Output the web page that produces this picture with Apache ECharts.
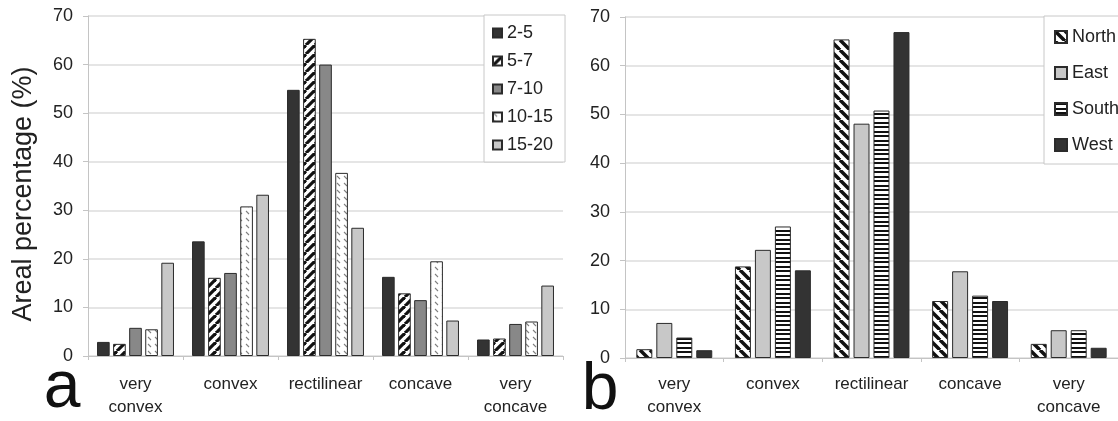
<!DOCTYPE html>
<html>
<head>
<meta charset="utf-8">
<script src="https://cdn.jsdelivr.net/npm/echarts@6/dist/echarts.min.js"></script>
<style>
html,body{margin:0;padding:0;background:#fff;}
#chart{width:1118px;height:421px;}
</style>
</head>
<body>
<div id="chart"></div>
<script>
// ---- data ----
const categories = ['very\nconvex', 'convex', 'rectilinear', 'concave', 'very\nconcave'];
const sizeClasses = ['2-5', '5-7', '7-10', '10-15', '15-20'];
const size_2_5   = [2.9, 23.6, 54.8, 16.3, 3.4];
const size_5_7   = [2.5, 16.1, 65.3, 12.9, 3.6];
const size_7_10  = [5.8, 17.1, 60.0, 11.5, 6.6];
const size_10_15 = [5.5, 30.8, 37.7, 19.5, 7.1];
const size_15_20 = [19.2, 33.2, 26.4, 7.3, 14.5];
const aspects = ['North', 'East', 'South', 'West'];
const north = [1.8, 18.8, 65.4, 11.7, 2.9];
const east  = [7.2, 22.2, 48.1, 17.8, 5.7];
const south = [4.2, 27.0, 50.8, 12.8, 5.7];
const west  = [1.6, 18.0, 66.9, 11.7, 2.1];
const yMin = 0, yMax = 70, yStep = 10;
const yTitle = 'Areal percentage (%)';
const panelLetters = ['a', 'b'];

// ---- patterns ----
function diag(size, dir, lw) {
  const c = document.createElement('canvas');
  c.width = size; c.height = size;
  const g = c.getContext('2d');
  g.fillStyle = '#fff'; g.fillRect(0, 0, size, size);
  g.strokeStyle = '#111'; g.lineWidth = lw;
  for (const x0 of [-size, 0, size]) {
    g.beginPath();
    if (dir === '/') { g.moveTo(x0, size); g.lineTo(x0 + size, 0); }
    else { g.moveTo(x0, 0); g.lineTo(x0 + size, size); }
    g.stroke();
  }
  return { image: c, repeat: 'repeat' };
}
function dashes() {
  const c = document.createElement('canvas');
  c.width = 7; c.height = 7;
  const g = c.getContext('2d');
  g.fillStyle = '#fff'; g.fillRect(0, 0, 7, 7);
  g.strokeStyle = '#808080'; g.lineWidth = 1.1;
  g.beginPath(); g.moveTo(1, 1); g.lineTo(4, 4); g.stroke();
  return { image: c, repeat: 'repeat' };
}
function hstripes() {
  const c = document.createElement('canvas');
  c.width = 4; c.height = 9;
  const g = c.getContext('2d');
  g.fillStyle = '#fff'; g.fillRect(0, 0, 4, 9);
  g.fillStyle = '#111';
  g.fillRect(0, 0, 4, 2);
  g.fillRect(0, 5, 4, 2);
  return { image: c, repeat: 'repeat' };
}

const FONT = '"Liberation Sans", Arial, sans-serif';
const chart = echarts.init(document.getElementById('chart'), null, { renderer: 'canvas' });

const border = { borderColor: '#2b2b2b', borderWidth: 1 };
function bar(name, data, color, idx, extra) {
  return Object.assign({
    name: name, type: 'bar', data: data,
    xAxisIndex: idx, yAxisIndex: idx,
    itemStyle: Object.assign({ color: color }, border),
    emphasis: { disabled: true },
    silent: true
  }, extra || {});
}

function xAx(idx, margin) {
  return {
    type: 'category', gridIndex: idx, data: categories,
    axisLine: { lineStyle: { color: '#c4c4c4', width: 1 } },
    axisTick: { show: true, length: 4, lineStyle: { color: '#c4c4c4' } },
    axisLabel: { fontFamily: FONT, fontSize: 17, color: '#222', lineHeight: 23, margin: margin, interval: 0 }
  };
}
function yAx(idx) {
  return {
    type: 'value', gridIndex: idx, min: yMin, max: yMax, interval: yStep,
    axisLine: { show: true, lineStyle: { color: '#c4c4c4', width: 1 } },
    axisTick: { show: true, length: 5, lineStyle: { color: '#c4c4c4' } },
    axisLabel: { fontFamily: FONT, fontSize: 18, color: '#222', margin: 15 },
    splitLine: { lineStyle: { color: '#dcdcdc', width: 1.5 } }
  };
}

const legendCommon = {
  orient: 'vertical',
  backgroundColor: '#fff', borderColor: '#c8c8c8', borderWidth: 1,
  textStyle: { fontFamily: FONT, fontSize: 18, color: '#222' },
  icon: 'rect', selectedMode: false
};

const option = {
  animation: false,
  backgroundColor: '#fff',
  grid: [
    { left: 88, top: 16, width: 475, height: 340 },
    { left: 625, top: 17, width: 500, height: 341 }
  ],
  xAxis: [xAx(0, 17), xAx(1, 15)],
  yAxis: [yAx(0), yAx(1)],
  legend: [
    Object.assign({}, legendCommon, {
      data: sizeClasses, left: 484, top: 15, padding: [9, 12, 8, 8],
      itemWidth: 9, itemHeight: 9, itemGap: 10
    }),
    Object.assign({}, legendCommon, {
      data: aspects, left: 1044, top: 16, padding: [12, 20, 10, 10],
      itemWidth: 12, itemHeight: 12, itemGap: 18
    })
  ],
  graphic: [
    { type: 'text', x: 24, y: 194, rotation: Math.PI / 2,
      style: { text: yTitle, font: '27px ' + FONT, fill: '#222', textAlign: 'center', textVerticalAlign: 'middle' } },
    { type: 'text', x: 62, y: 389,
      style: { text: panelLetters[0], font: '66px ' + FONT, fill: '#111', textAlign: 'center', textVerticalAlign: 'middle' } },
    { type: 'text', x: 600, y: 391,
      style: { text: panelLetters[1], font: '66px ' + FONT, fill: '#111', textAlign: 'center', textVerticalAlign: 'middle' } }
  ],
  series: [
    bar(sizeClasses[0], size_2_5, '#333333', 0),
    bar(sizeClasses[1], size_5_7, diag(9, '/', 3.2), 0),
    bar(sizeClasses[2], size_7_10, '#888888', 0),
    bar(sizeClasses[3], size_10_15, dashes(), 0),
    bar(sizeClasses[4], size_15_20, '#c8c8c8', 0, { barCategoryGap: '19%', barGap: '27%' }),
    bar(aspects[0], north, diag(10, '\\', 3.5), 1),
    bar(aspects[1], east, '#c8c8c8', 1),
    bar(aspects[2], south, hstripes(), 1),
    bar(aspects[3], west, '#333333', 1, { barCategoryGap: '23%', barGap: '25%' })
  ]
};
chart.setOption(option);
</script>
</body>
</html>
